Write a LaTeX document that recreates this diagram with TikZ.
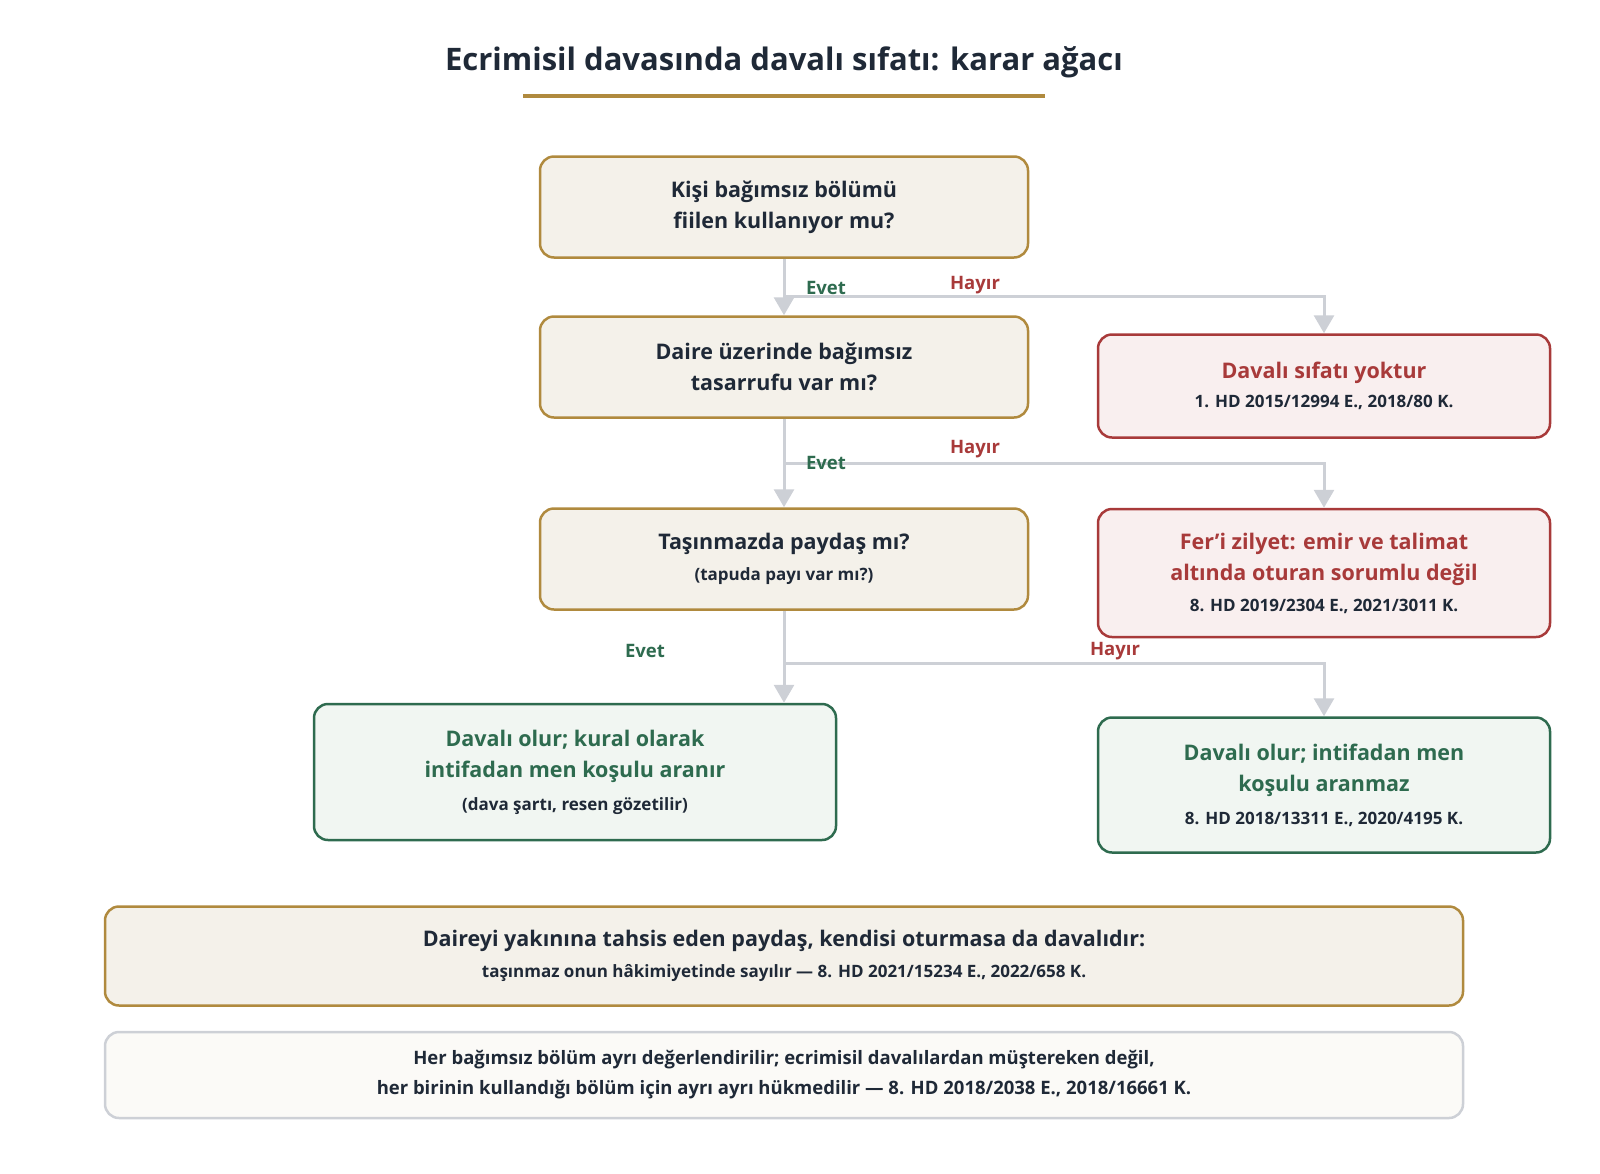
\documentclass[tikz,border=0pt]{standalone}
\usepackage{fontspec}
\setmainfont{Open Sans}
\usetikzlibrary{arrows.meta,positioning}
\definecolor{gold}{HTML}{B08A3E}
\definecolor{goldfill}{HTML}{F4F1EA}
\definecolor{redc}{HTML}{A83A3A}
\definecolor{redfill}{HTML}{F9EFEF}
\definecolor{greenc}{HTML}{2E6B4F}
\definecolor{greenfill}{HTML}{F1F6F2}
\definecolor{grayc}{HTML}{CDD0D6}
\definecolor{notefill}{HTML}{FBFAF7}
\definecolor{ink}{HTML}{1F2937}
\newcommand{\subtxt}[1]{{\fontsize{17}{20}\selectfont\color{ink}#1}}
\tikzset{
  box/.style={draw, line width=2.5pt, rounded corners=14pt, align=center, inner sep=0pt,
    font=\fontsize{21.5}{31}\selectfont\bfseries},
  question/.style={box, draw=gold, fill=goldfill, text=ink, minimum width=488pt, minimum height=101pt},
  redbox/.style={box, draw=redc, fill=redfill, text=redc, minimum width=452pt},
  greenbox/.style={box, draw=greenc, fill=greenfill, text=greenc},
  flow/.style={draw=grayc, line width=3pt, -{Triangle[width=20pt,length=18pt]}},
  yes/.style={text=greenc, font=\fontsize{18.5}{22}\selectfont\bfseries},
  no/.style={text=redc, font=\fontsize{18.5}{22}\selectfont\bfseries},
}
\begin{document}
\begin{tikzpicture}[x=1pt,y=-1pt]
        \clip (0,0) rectangle (1600,1173);
        % title
        \node[text=ink, font=\fontsize{31}{38}\selectfont\bfseries] (title) at (784,62) {Ecrimisil davasında davalı sıfatı: karar ağacı};
        \draw[gold, line width=4pt] (523,96) -- (1045,96);

        % questions
        \node[question] (q1) at (784,207) {Kişi bağımsız bölümü\\ fiilen kullanıyor mu?};
        \node[question] (q2) at (784,367) {Daire üzerinde bağımsız\\ tasarrufu var mı?};
        \node[question] (q3) at (784,559) {Taşınmazda paydaş mı?\\ \subtxt{(tapuda payı var mı?)}};

        % outcomes
        \node[redbox, minimum height=103pt] (r1) at (1324,386) {Davalı sıfatı yoktur\\[-2pt] \subtxt{1. HD 2015/12994 E., 2018/80 K.}};
        \node[redbox, minimum height=128pt] (r2) at (1324,573) {Fer’i zilyet: emir ve talimat\\ altında oturan sorumlu değil\\ \subtxt{8. HD 2019/2304 E., 2021/3011 K.}};
        \node[greenbox, minimum width=522pt, minimum height=136pt] (g1) at (575,772) {Davalı olur; kural olarak\\ intifadan men koşulu aranır\\[2pt] \subtxt{(dava şartı, resen gözetilir)}};
        \node[greenbox, minimum width=452pt, minimum height=135pt] (g2) at (1324,785) {Davalı olur; intifadan men\\ koşulu aranmaz\\[2pt] \subtxt{8. HD 2018/13311 E., 2020/4195 K.}};

        % notes
        \node[box, draw=gold, fill=goldfill, text=ink, minimum width=1358pt, minimum height=99pt] (n1) at (784,956) {Daireyi yakınına tahsis eden paydaş, kendisi oturmasa da davalıdır:\\ \subtxt{taşınmaz onun hâkimiyetinde sayılır — 8. HD 2021/15234 E., 2022/658 K.}};
        \node[box, draw=grayc, fill=notefill, text=ink, minimum width=1358pt, minimum height=86pt,
          font=\fontsize{18.5}{30}\selectfont\bfseries] (n2) at (784,1075) {Her bağımsız bölüm ayrı değerlendirilir; ecrimisil davalılardan müştereken değil,\\ her birinin kullandığı bölüm için ayrı ayrı hükmedilir — 8. HD 2018/2038 E., 2018/16661 K.};

        % connectors
        \coordinate (j1) at (784,296);
        \coordinate (j2) at (784,463);
        \coordinate (j3) at (784,663);
        \draw[flow] (q1.south) -- (q2.north);
        \draw[flow] (j1) -| (r1.north);
        \draw[flow] (q2.south) -- (q3.north);
        \draw[flow] (j2) -| (r2.north);
        \draw[flow] (q3.south) -- (q3.south |- g1.north);
        \draw[flow] (j3) -| (g2.north);

        % labels
        \node[yes] (e1) at (826,288) {Evet};
        \node[no] (h1) at (975,285) {Hayır};
        \node[yes] (e2) at (826,463) {Evet};
        \node[no] (h2) at (975,449) {Hayır};
        \node[yes] (e3) at (645,651) {Evet};
        \node[no] (h3) at (1115,651) {Hayır};
\end{tikzpicture}
\end{document}
